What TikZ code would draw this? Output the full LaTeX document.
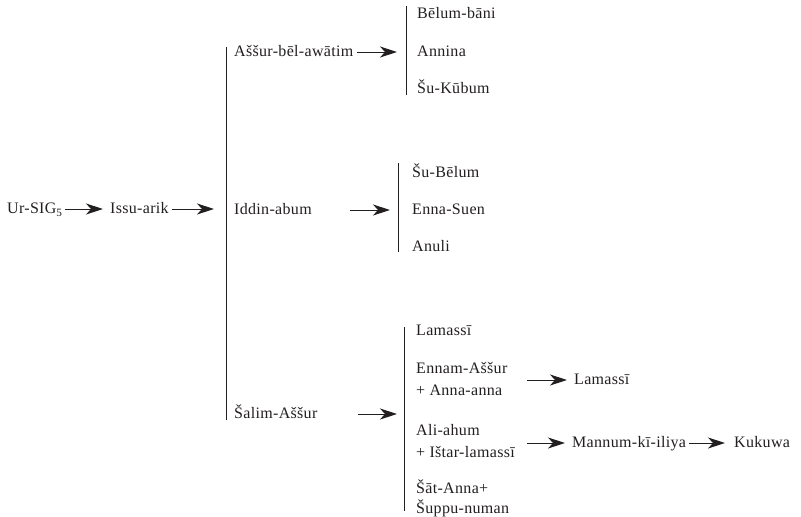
\documentclass[tikz,border=0pt]{standalone}
\usepackage{fontspec}
\setmainfont[LetterSpace=2]{Liberation Serif}
\usetikzlibrary{arrows.meta}
\definecolor{ink}{HTML}{231F20}
\begin{document}
\begin{tikzpicture}[x=1pt,y=-1pt,
  person/.style={anchor=west, inner sep=0pt, text height=9pt, text depth=0pt, text=ink, font=\fontsize{16}{18}\selectfont},
  arr/.style={-{Stealth[length=17pt,width=11pt,inset=5pt]}, line width=1pt, draw=ink},
  bar/.style={line width=0.9pt, draw=ink}]
\useasboundingbox (0,0) rectangle (801,517);
% first line
\node[person] (ursig) at (7,209){Ur-SIG\textsubscript{5}};
\node[person] (issu) at (110,209){Issu-arik};
\coordinate (i1) at (214,209);
\draw[arr, shorten <=2pt, shorten >=7pt](ursig) -- (issu);
\draw[arr, shorten <=3pt](issu) -- (i1);
\coordinate (b1t) at (226,47);
\coordinate (b1b) at (226,420);
\draw[bar](b1t) -- (b1b);
% Assur-bel-awatim
\node[person] (assur) at (234,52){Aššur-bēl-awātim};
\coordinate (a1) at (397,52);
\draw[arr, shorten <=3pt](assur) -- (a1);
\coordinate (b2t) at (406,6);
\coordinate (b2b) at (406,95);
\draw[bar](b2t) -- (b2b);
\node[person] (belum) at (417,14){Bēlum-bāni};
\node[person] (annina) at (417,52){Annina};
\node[person] (sukubum) at (417,89){Šu-Kūbum};
% Iddin-abum
\node[person] (iddin) at (234,210){Iddin-abum};
\coordinate (d0) at (350,210);
\coordinate (d1) at (390,210);
\draw[arr](d0) -- (d1);
\coordinate (b3t) at (398,163);
\coordinate (b3b) at (398,252);
\draw[bar](b3t) -- (b3b);
\node[person] (subelum) at (412,173){Šu-Bēlum};
\node[person] (ennasuen) at (412,210){Enna-Suen};
\node[person] (anuli) at (412,247){Anuli};
% Salim-Assur
\node[person] (salim) at (234,414){Šalim-Aššur};
\coordinate (s0) at (358,414);
\coordinate (s1) at (397,414);
\draw[arr](s0) -- (s1);
\coordinate (b4t) at (404,327);
\coordinate (b4b) at (404,511);
\draw[bar](b4t) -- (b4b);
\node[person] (lamassi) at (416,331){Lamassī};
\node[person] (ennamA) at (416,369){Ennam-Aššur};
\node[person] (ennamB) at (416,391){+ Anna-anna};
\coordinate (e0) at (527,380);
\node[person] (lamassiB) at (574,380){Lamassī};
\draw[arr, shorten >=7pt](e0) -- (lamassiB);
\node[person] (aliA) at (416,431){Ali-ahum};
\node[person] (aliB) at (416,453){+ Ištar-lamassī};
\coordinate (l0) at (527,443);
\node[person] (mannum) at (572,443){Mannum-kī-iliya};
\node[person] (kukuwa) at (734,443){Kukuwa};
\draw[arr, shorten >=7pt](l0) -- (mannum);
\draw[arr, shorten <=3pt, shorten >=9pt](mannum) -- (kukuwa);
\node[person] (satA) at (416,489){Šāt-Anna+};
\node[person] (satB) at (416,509){Šuppu-numan};
\end{tikzpicture}
\end{document}
